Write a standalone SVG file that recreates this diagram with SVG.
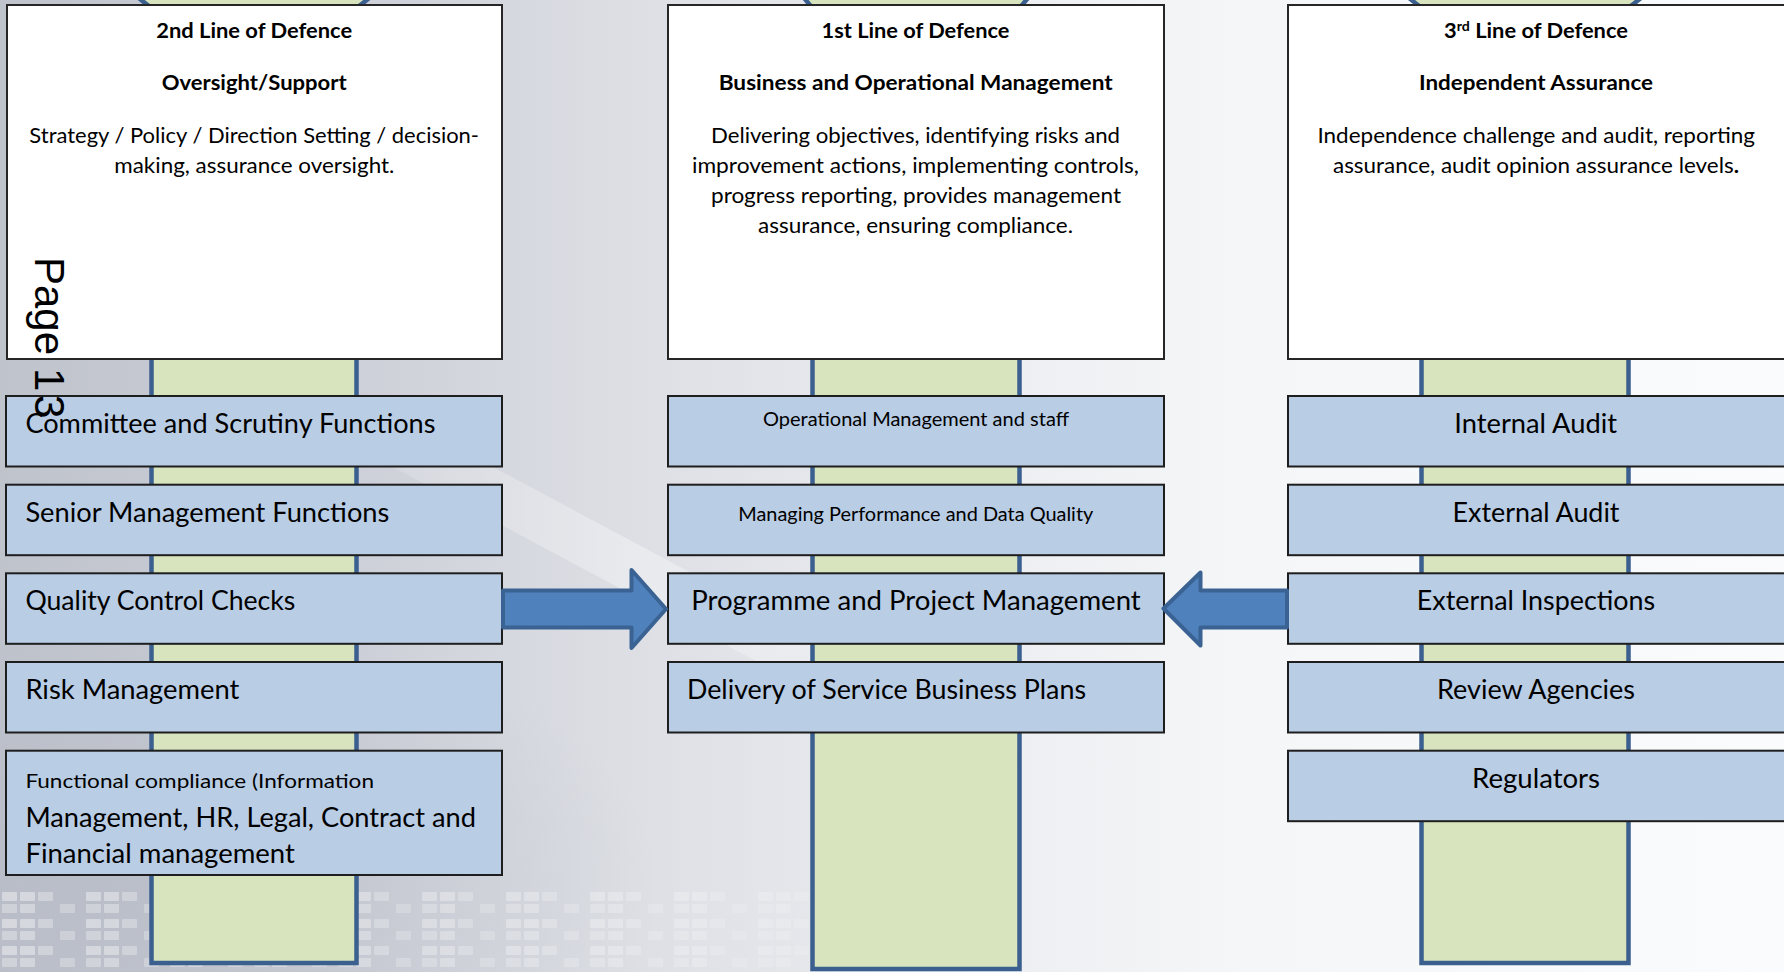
<svg xmlns="http://www.w3.org/2000/svg" width="1784" height="972" viewBox="0 0 1784 972">
  <style>
    .txt { font-family: Lato, "Liberation Sans", sans-serif; fill: #000; }
    .head { font-weight: bold; font-size: 21.6px; text-anchor: middle; }
    .body { font-size: 21.6px; text-anchor: middle; }
    .big { font-size: 26.4px; }
    .mid { text-anchor: middle; }
    .small { font-size: 18.5px; }
    .fc { font-size: 20px; }
    .top-box { fill: #ffffff; stroke: #262626; stroke-width: 2; }
    .row-box { fill: #b9cde5; stroke: #1e1e1e; stroke-width: 2; }
    .pillar { fill: #d7e4bd; stroke: #3b5f8f; stroke-width: 4.5; }
    .arrow { fill: #4f81bd; stroke: #3a6293; stroke-width: 4; stroke-linejoin: round; }
    .page { font-family: "Liberation Sans", Arial, sans-serif; font-size: 42px; fill: #000; }
  </style>
  <defs>
    <linearGradient id="bgGrad" x1="0" y1="0" x2="1" y2="0">
      <stop offset="0" stop-color="#bfc3cc"/>
      <stop offset="0.2" stop-color="#cdd0d8"/>
      <stop offset="0.38" stop-color="#dfe1e6"/>
      <stop offset="0.55" stop-color="#eceef1"/>
      <stop offset="0.7" stop-color="#f5f6f8"/>
      <stop offset="1" stop-color="#fafbfc"/>
    </linearGradient>
    <linearGradient id="fadeRight" x1="0" y1="0" x2="1" y2="0">
      <stop offset="0" stop-color="#fff" stop-opacity="0.9"/>
      <stop offset="0.6" stop-color="#fff" stop-opacity="0.6"/>
      <stop offset="1" stop-color="#fff" stop-opacity="0"/>
    </linearGradient>
    <linearGradient id="streak" x1="0" y1="0" x2="1" y2="0">
      <stop offset="0" stop-color="#ffffff" stop-opacity="0"/>
      <stop offset="0.5" stop-color="#ffffff" stop-opacity="0.35"/>
      <stop offset="1" stop-color="#ffffff" stop-opacity="0"/>
    </linearGradient>
    <mask id="keysMask">
      <rect x="0" y="880" width="1060" height="92" fill="url(#fadeRight)"/>
    </mask>
    <pattern id="keys" x="0" y="890" width="84" height="27" patternUnits="userSpaceOnUse">
      <rect x="2" y="2" width="15" height="9" rx="1" fill="#ffffff" fill-opacity="0.45"/>
      <rect x="20" y="2" width="15" height="9" rx="1" fill="#ffffff" fill-opacity="0.45"/>
      <rect x="38" y="2" width="15" height="9" rx="1" fill="#ffffff" fill-opacity="0.35"/>
      <rect x="2" y="14" width="15" height="9" rx="1" fill="#ffffff" fill-opacity="0.35"/>
      <rect x="20" y="14" width="15" height="9" rx="1" fill="#ffffff" fill-opacity="0.4"/>
      <rect x="60" y="14" width="15" height="9" rx="1" fill="#ffffff" fill-opacity="0.3"/>
    </pattern>
    <radialGradient id="haze" cx="0.1" cy="0.85" r="0.5">
      <stop offset="0" stop-color="#aeb3bf" stop-opacity="0.45"/>
      <stop offset="1" stop-color="#aeb3bf" stop-opacity="0"/>
    </radialGradient>
  </defs>

  <!-- backdrop -->
  <rect x="0" y="0" width="1784" height="972" fill="url(#bgGrad)"/>
  <rect x="0" y="400" width="1100" height="572" fill="url(#haze)"/>
  <polygon points="230,380 330,380 1060,770 960,770" fill="url(#streak)"/>
  <rect x="0" y="890" width="1060" height="82" fill="url(#keys)" mask="url(#keysMask)"/>

  <!-- columns -->
  <g id="pillars">
    <path id="pillar-left" class="pillar" d="M151.5,963 V8 C145,3 138,-2 130,-10 L378,-10 C370,-2 363,3 356.5,8 V963 Z"/>
    <path id="pillar-middle" class="pillar" d="M812.5,969 V8 C808,3 804,-2 798,-10 L1034,-10 C1028,-2 1024,3 1019.5,8 V969 Z"/>
    <path id="pillar-right" class="pillar" d="M1421.5,963 V8 C1416,3 1408,-2 1400,-10 L1650,-10 C1642,-2 1634,3 1628.5,8 V963 Z"/>
  </g>

  <!-- header boxes -->
  <g id="second-line">
    <rect class="top-box" x="7" y="5" width="495" height="354"/>
    <text class="txt head" x="254.2" y="38.3" textLength="196" lengthAdjust="spacingAndGlyphs">2nd Line of Defence</text>
    <text class="txt head" x="254.2" y="89.7" textLength="185" lengthAdjust="spacingAndGlyphs">Oversight/Support</text>
    <text class="txt body" x="254.2" y="142.7" textLength="449.7" lengthAdjust="spacingAndGlyphs">Strategy / Policy / Direction Setting / decision-</text>
    <text class="txt body" x="254.3" y="172.8" textLength="280" lengthAdjust="spacingAndGlyphs">making, assurance oversight.</text>
  </g>
  <g id="first-line">
    <rect class="top-box" x="668" y="5" width="496" height="354"/>
    <text class="txt head" x="915.5" y="38.3" textLength="188" lengthAdjust="spacingAndGlyphs">1st Line of Defence</text>
    <text class="txt head" x="915.7" y="89.7" textLength="394" lengthAdjust="spacingAndGlyphs">Business and Operational Management</text>
    <text class="txt body" x="915.5" y="142.7" textLength="409" lengthAdjust="spacingAndGlyphs">Delivering objectives, identifying risks and</text>
    <text class="txt body" x="915.5" y="172.9" textLength="447" lengthAdjust="spacingAndGlyphs">improvement actions, implementing controls,</text>
    <text class="txt body" x="916" y="203.1" textLength="410" lengthAdjust="spacingAndGlyphs">progress reporting, provides management</text>
    <text class="txt body" x="915.5" y="233.3" textLength="315" lengthAdjust="spacingAndGlyphs">assurance, ensuring compliance.</text>
  </g>
  <g id="third-line">
    <rect class="top-box" x="1288" y="5" width="500" height="354"/>
    <text class="txt head" x="1536" y="38.3" textLength="184" lengthAdjust="spacingAndGlyphs">3<tspan font-size="14" baseline-shift="7">rd</tspan> Line of Defence</text>
    <text class="txt head" x="1536" y="89.7" textLength="234" lengthAdjust="spacingAndGlyphs">Independent Assurance</text>
    <text class="txt body" x="1536.2" y="142.7" textLength="437.5" lengthAdjust="spacingAndGlyphs">Independence challenge and audit, reporting</text>
    <text class="txt body" x="1536" y="172.9" textLength="406" lengthAdjust="spacingAndGlyphs">assurance, audit opinion assurance levels<tspan font-weight="bold">.</tspan></text>
  </g>

  <!-- second line items -->
  <g id="committee-scrutiny">
    <rect class="row-box" x="6" y="396" width="496" height="70.5"/>
    <text class="txt big" x="25.4" y="433.3" textLength="410" lengthAdjust="spacingAndGlyphs">Committee and Scrutiny Functions</text>
  </g>
  <g id="senior-management">
    <rect class="row-box" x="6" y="484.7" width="496" height="70.5"/>
    <text class="txt big" x="25.4" y="521.7" textLength="364" lengthAdjust="spacingAndGlyphs">Senior Management Functions</text>
  </g>
  <g id="quality-control">
    <rect class="row-box" x="6" y="573.3" width="496" height="70.5"/>
    <text class="txt big" x="25.4" y="610" textLength="270" lengthAdjust="spacingAndGlyphs">Quality Control Checks</text>
  </g>
  <g id="risk-management">
    <rect class="row-box" x="6" y="662" width="496" height="70.5"/>
    <text class="txt big" x="25.4" y="699" textLength="214" lengthAdjust="spacingAndGlyphs">Risk Management</text>
  </g>
  <g id="functional-compliance">
    <rect class="row-box" x="6" y="750.7" width="496" height="124.3"/>
    <text class="txt fc" x="25.4" y="788.3" textLength="348.6" lengthAdjust="spacingAndGlyphs">Functional compliance (Information</text>
    <text class="txt big" x="25.4" y="826.7" textLength="450.6" lengthAdjust="spacingAndGlyphs">Management, HR, Legal, Contract and</text>
    <text class="txt big" x="25.4" y="863.3" textLength="269.5" lengthAdjust="spacingAndGlyphs">Financial management</text>
  </g>

  <!-- first line items -->
  <g id="operational-management">
    <rect class="row-box" x="668" y="396" width="496" height="70.5"/>
    <text class="txt small mid" x="916" y="425.5" textLength="306" lengthAdjust="spacingAndGlyphs">Operational Management and staff</text>
  </g>
  <g id="performance-data">
    <rect class="row-box" x="668" y="484.7" width="496" height="70.5"/>
    <text class="txt small mid" x="915.8" y="520.5" textLength="355" lengthAdjust="spacingAndGlyphs">Managing Performance and Data Quality</text>
  </g>
  <g id="programme-project">
    <rect class="row-box" x="668" y="573.3" width="496" height="70.5"/>
    <text class="txt big mid" x="916" y="610" textLength="449.5" lengthAdjust="spacingAndGlyphs">Programme and Project Management</text>
  </g>
  <g id="service-plans">
    <rect class="row-box" x="668" y="662" width="496" height="70.5"/>
    <text class="txt big" x="687" y="699" textLength="399" lengthAdjust="spacingAndGlyphs">Delivery of Service Business Plans</text>
  </g>

  <!-- third line items -->
  <g id="internal-audit">
    <rect class="row-box" x="1288" y="396" width="500" height="70.5"/>
    <text class="txt big mid" x="1535.7" y="433.3" textLength="162.7" lengthAdjust="spacingAndGlyphs">Internal Audit</text>
  </g>
  <g id="external-audit">
    <rect class="row-box" x="1288" y="484.7" width="500" height="70.5"/>
    <text class="txt big mid" x="1536" y="521.7" textLength="167" lengthAdjust="spacingAndGlyphs">External Audit</text>
  </g>
  <g id="external-inspections">
    <rect class="row-box" x="1288" y="573.3" width="500" height="70.5"/>
    <text class="txt big mid" x="1536" y="610" textLength="238.5" lengthAdjust="spacingAndGlyphs">External Inspections</text>
  </g>
  <g id="review-agencies">
    <rect class="row-box" x="1288" y="662" width="500" height="70.5"/>
    <text class="txt big mid" x="1536" y="699" textLength="198" lengthAdjust="spacingAndGlyphs">Review Agencies</text>
  </g>
  <g id="regulators">
    <rect class="row-box" x="1288" y="750.7" width="500" height="70.5"/>
    <text class="txt big mid" x="1536" y="788" textLength="128" lengthAdjust="spacingAndGlyphs">Regulators</text>
  </g>

  <!-- block arrows into programme management -->
  <g id="connectors">
    <path id="arrow-second-to-first" class="arrow" d="M503,590.5 H631.5 V570 L666,609 L631.5,648 V627.5 H503 Z"/>
    <path id="arrow-third-to-first" class="arrow" d="M1287,590.5 H1200.5 V572.5 L1163.5,608.5 L1200.5,645.5 V627.5 H1287 Z"/>
  </g>

  <!-- page number -->
  <text class="page" transform="translate(35,257) rotate(90)" x="0" y="0">Page <tspan x="111">1</tspan><tspan x="138">3</tspan></text>
</svg>
